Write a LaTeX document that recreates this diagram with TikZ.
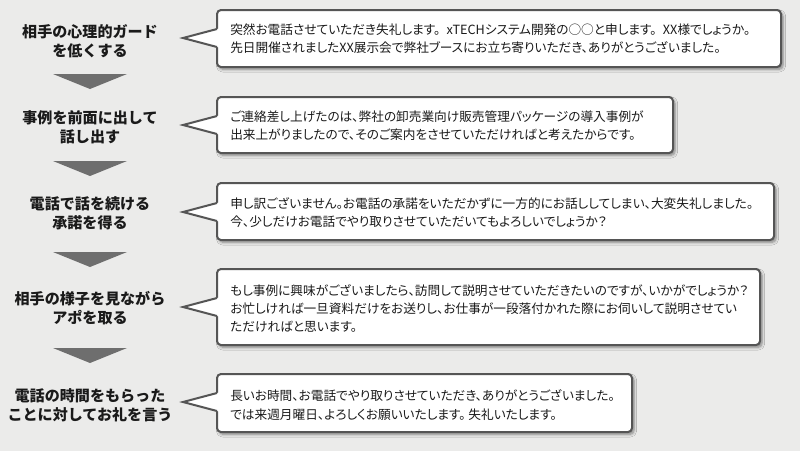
\documentclass[tikz,border=0pt]{standalone}
\usepackage{fontspec}
\newfontfamily\jp{Noto Sans CJK JP}
\newfontfamily\jpp[RawFeature={+palt}]{Noto Sans CJK JP}
\usetikzlibrary{shadows.blur}
\definecolor{bg}{HTML}{EBEBEA}
\definecolor{tricol}{HTML}{6E6E6E}
\definecolor{bord}{HTML}{555555}
\definecolor{txt}{HTML}{1A1A1A}
\newcommand\mybubble[4]{% #1 top, #2 bottom, #3 right, #4 tip y
  \draw[bubble] (217,#1) rectangle (#3,#2);
  \fill[white] (219,#4-9.5) -- (183,#4) -- (219,#4+9.5) -- cycle;
  \draw[pointer] (217,#4-9) -- (183,#4) -- (217,#4+9);
}
\begin{document}
\begin{tikzpicture}[x=0.75pt,y=-0.75pt,
  steplabel/.style={font=\jp\bfseries\fontsize{11.3}{14.3}\selectfont, align=center, text=txt, inner sep=0pt},
  bubbletext/.style={font=\jpp\fontsize{9.5}{13.6}\selectfont, align=left, anchor=west, text=txt, inner sep=0pt},
  bubble/.style={draw=bord, line width=1.5pt, fill=white, rounded corners=3pt,
    blur shadow={shadow xshift=1.5pt, shadow yshift=-1.8pt, shadow blur radius=2pt, shadow blur steps=6, shadow opacity=45}},
  pointer/.style={draw=bord, line width=1.5pt, line join=miter},
  tri/.style={fill=tricol, draw=none}]
\fill[bg] (0,0) rectangle (800,451);
\useasboundingbox (0,0) rectangle (800,451);

% step labels
\node[steplabel] (l1) at (90,41) {相手の心理的ガード\\を低くする};
\node[steplabel] (l2) at (90,127) {事例を前面に出して\\話し出す};
\node[steplabel] (l3) at (90,213) {電話で話を続ける\\承諾を得る};
\node[steplabel] (l4) at (90,308) {相手の様子を見ながら\\アポを取る};
\node[steplabel] (l5) at (90,405) {電話の時間をもらった\\ことに対してお礼を言う};

% down triangles
\fill[tri] (53,74) -- (127,74) -- (90,89) -- cycle;
\fill[tri] (53,161) -- (127,161) -- (90,176) -- cycle;
\fill[tri] (53,252) -- (127,252) -- (90,267) -- cycle;
\fill[tri] (53,348) -- (127,348) -- (90,363) -- cycle;

% bubbles
\mybubble{10}{67}{781}{38}
\mybubble{97}{153}{673}{125}
\mybubble{183}{240}{774}{212}
\mybubble{269}{345}{760}{307}
\mybubble{374}{432}{632}{402}

\node[bubbletext] (t1) at (230,39) {突然お電話させていただき失礼します。\hspace{0.5em}xTECHシステム開発の○○と申します。\hspace{0.5em}XX様でしょうか。\\先日開催されましたXX展示会で弊社ブースにお立ち寄りいただき、ありがとうございました。};
\node[bubbletext] (t2) at (230,126) {ご連絡差し上げたのは、弊社の卸売業向け販売管理パッケージの導入事例が\\出来上がりましたので、そのご案内をさせていただければと考えたからです。};
\node[bubbletext] (t3) at (230,212.5) {申し訳ございません。お電話の承諾をいただかずに一方的にお話ししてしまい、大変失礼しました。\\今、少しだけお電話でやり取りさせていただいてもよろしいでしょうか？};
\node[bubbletext] (t4) at (230,308.5) {もし事例に興味がございましたら、訪問して説明させていただきたいのですが、いかがでしょうか？\\お忙しければ一旦資料だけをお送りし、お仕事が一段落付かれた際にお伺いして説明させてい\\ただければと思います。};
\node[bubbletext] (t5) at (230,405) {長いお時間、お電話でやり取りさせていただき、ありがとうございました。\\では来週月曜日、よろしくお願いいたします。 失礼いたします。};
\end{tikzpicture}
\end{document}
